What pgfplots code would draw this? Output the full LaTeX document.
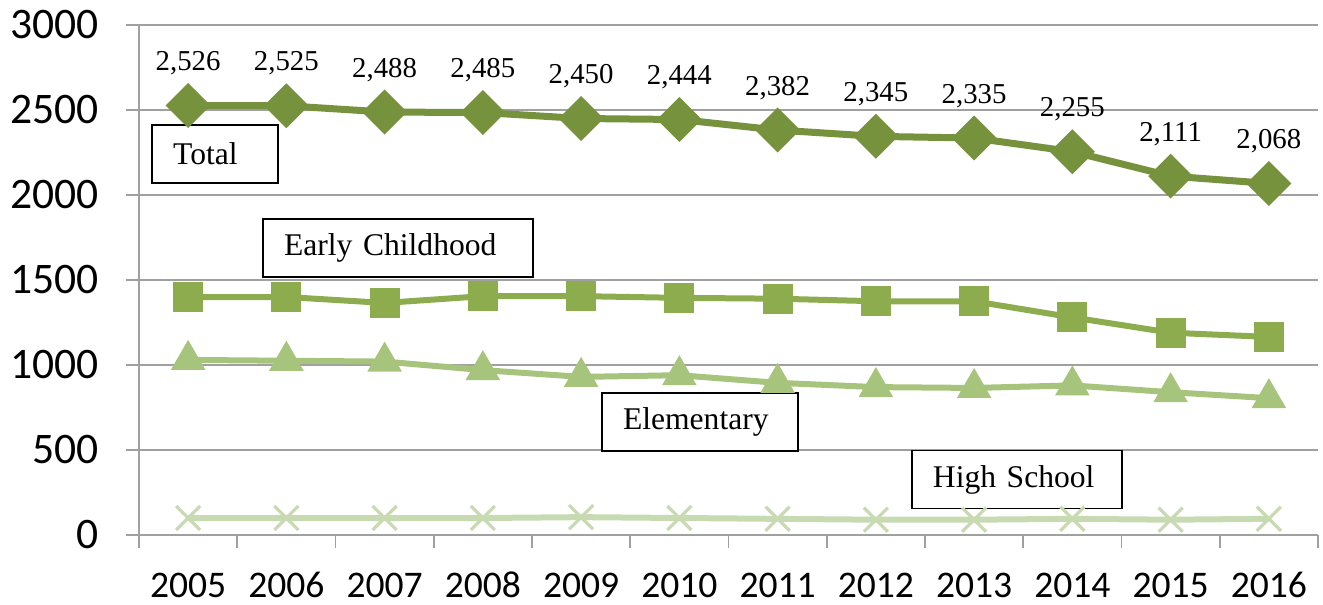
\documentclass[border=0pt]{standalone}
\usepackage{fontspec}
\setmainfont{Liberation Serif}
\newfontfamily\carlito{Carlito}
\usepackage{pgfplots}
\pgfplotsset{compat=1.18}
\definecolor{cTot}{RGB}{118,146,60}
\definecolor{cEC}{RGB}{140,172,78}
\definecolor{cEl}{RGB}{166,196,124}
\definecolor{cHS}{RGB}{200,218,178}
\definecolor{gridc}{RGB}{160,160,160}
\tikzset{box/.style={draw=black, line width=0.8pt, fill=white, minimum height=29pt,
    font=\fontsize{15.8}{15.8}\selectfont, inner xsep=10.5pt, align=left, text=black}}
\begin{document}
\begin{tikzpicture}
\begin{axis}[
  width=589.5pt, height=255pt, scale only axis,
  xmin=-0.5, xmax=11.5, ymin=0, ymax=3000,
  axis lines=left, axis line style={-, draw=gridc, line width=0.8pt},
  xtick={-0.5,0.5,...,11.5},
  xticklabels={},
  extra x ticks={0,1,2,3,4,5,6,7,8,9,10,11},
  extra x tick labels={2005,2006,2007,2008,2009,2010,2011,2012,2013,2014,2015,2016},
  extra x tick style={major tick length=0pt,
     xticklabel style={font=\carlito\fontsize{18.8}{18.8}\selectfont, anchor=base, yshift=-31pt, inner sep=0pt, text depth=0pt}},
  ytick={0,500,...,3000},
  ymajorgrids, grid style={draw=gridc, line width=0.8pt},
  tick align=outside, major tick length=6.5pt,
  tick style={draw=gridc, line width=0.8pt},
  /pgf/number format/assume math mode=true,
  yticklabel style={font=\carlito\fontsize{21.8}{21.8}\selectfont, /pgf/number format/1000 sep={}, xshift=-10pt},
  clip=false,
]
\addplot[cHS, line width=3pt, mark=x, mark size=8.5pt, mark options={solid, line width=1.6pt}]
  coordinates {(0,100) (1,100) (2,100) (3,100) (4,105) (5,100) (6,95) (7,90) (8,90) (9,95) (10,90) (11,95)};
\addplot[cEl, line width=3pt, mark=triangle*, mark size=7pt, mark options={solid, draw=none, fill=cEl}]
  coordinates {(0,1030) (1,1025) (2,1020) (3,970) (4,930) (5,940) (6,895) (7,870) (8,865) (9,880) (10,840) (11,805)};
\addplot[cEC, line width=3pt, mark=square*, mark size=6pt, mark options={solid, draw=none, fill=cEC}]
  coordinates {(0,1400) (1,1400) (2,1365) (3,1405) (4,1405) (5,1395) (6,1390) (7,1375) (8,1375) (9,1280) (10,1190) (11,1165)};
\addplot[cTot, line width=3.5pt, mark=square*, mark size=6.2pt, mark options={solid, draw=none, fill=cTot, rotate=45},
  nodes near coords,
  every node near coord/.append style={anchor=base, yshift=17.5pt, inner sep=0pt, text=black,
     font=\fontsize{14.4}{14.4}\selectfont, /pgf/number format/1000 sep={,}}]
  coordinates {(0,2526) (1,2525) (2,2488) (3,2485) (4,2450) (5,2444) (6,2382) (7,2345) (8,2335) (9,2255) (10,2111) (11,2068)};
\node[box, text width=42pt] at (axis cs:0.275,2241) {Total};
\node[box, text width=114pt] at (axis cs:2.137,1688) {Early Childhood};
\node[box, text width=77pt] at (axis cs:5.21,665) {Elementary};
\node[box, text width=84pt] at (axis cs:8.436,326) {High School};
\end{axis}
\pgfresetboundingbox
\path ([shift={(-69.5pt,-35pt)}]current axis.south west) rectangle ([shift={(2.5pt,12.5pt)}]current axis.north east);
\end{tikzpicture}
\end{document}
